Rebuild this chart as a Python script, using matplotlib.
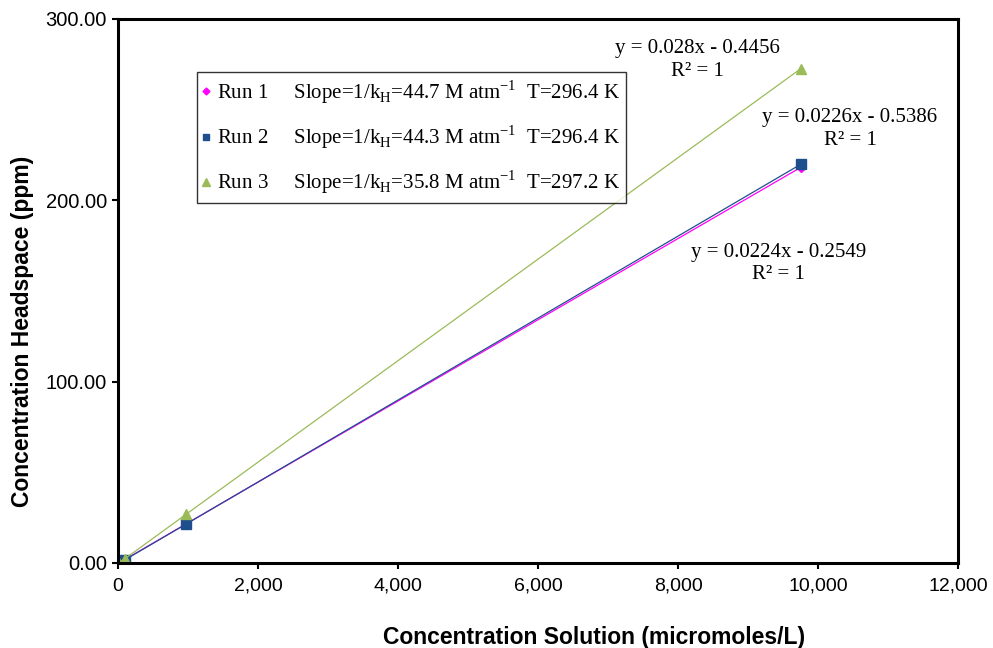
import matplotlib.pyplot as plt

# data (micromoles/L vs ppm)
conc_sol = [0, 9.75, 97.5, 975, 9750]
run1 = [0.0, 0.0, 1.9, 21.6, 218.1]
run2 = [0.0, 0.0, 1.7, 21.5, 219.8]
run3 = [0.0, 0.0, 2.3, 26.9, 272.5]

labels = [
    r"Run 1     Slope=1/k$_\mathregular{H}$=44.7 M atm$^\mathregular{-1}$  T=296.4 K",
    r"Run 2     Slope=1/k$_\mathregular{H}$=44.3 M atm$^\mathregular{-1}$  T=296.4 K",
    r"Run 3     Slope=1/k$_\mathregular{H}$=35.8 M atm$^\mathregular{-1}$  T=297.2 K",
]
fit_text = ["y = 0.0224x - 0.2549\nR² = 1",
            "y = 0.0226x - 0.5386\nR² = 1",
            "y = 0.028x - 0.4456\nR² = 1"]
fit_pos = [(9436, 165.2), (10457, 239.4), (8271, 277.4)]

serif = "Liberation Serif"
plt.rcParams["font.family"] = ["Liberation Sans", "DejaVu Sans"]
plt.rcParams["mathtext.fontset"] = "custom"
plt.rcParams["mathtext.rm"] = serif

fig = plt.figure(figsize=(9.93, 6.48), dpi=100)
ax = fig.add_axes([0.1188, 0.1312, 0.846, 0.8395])

ax.plot(conc_sol, run1, color="#FF00FF", marker="D", ms=5, lw=0.9, label=labels[0])
ax.plot(conc_sol, run2, color="#1F4E8C", marker="s", ms=6.5, lw=0.9, label=labels[1])
ax.plot(conc_sol, run3, color="#9BBB59", marker="^", ms=7.5, lw=0.9, label=labels[2])

for txt, (x, y) in zip(fit_text, fit_pos):
    ax.text(x, y, txt, ha="center", va="center", fontsize=15,
            family=serif, linespacing=1.25)

ax.set_xlim(0, 12000)
ax.set_ylim(0, 300)
ax.set_xticks(range(0, 12001, 2000))
ax.set_yticks([0, 100, 200, 300])
ax.set_xticklabels([f"{v:,}" for v in range(0, 12001, 2000)])
ax.set_yticklabels([f"{v:.2f}" for v in [0, 100, 200, 300]])
ax.tick_params(direction="out", length=4.5, width=1.5, labelsize=14)
ax.tick_params(axis="x", pad=6)
ax.tick_params(axis="y", labelsize=14.5, pad=3.5)
for s in ax.spines.values():
    s.set_linewidth(2.2)

ax.set_xlabel("Concentration Solution (micromoles/L)", fontsize=16.5, fontweight="bold")
ax.set_ylabel("Concentration Headspace (ppm)", fontsize=16.5, fontweight="bold")
ax.xaxis.set_label_coords(0.567, -0.116)
ax.yaxis.set_label_coords(-0.10, 0.426)

leg = ax.legend(loc="upper left", bbox_to_anchor=(0.094, 0.9026), prop={"family": serif, "size": 15},
                frameon=True, fancybox=False, edgecolor="black", labelspacing=0.85,
                handlelength=0.3, handletextpad=0.35, borderpad=0.3, borderaxespad=0, markerscale=0.7)
leg.get_frame().set_linewidth(1.0)
for h in leg.legend_handles:
    h.set_linestyle("None")

fig.savefig("out.png", dpi=100)
